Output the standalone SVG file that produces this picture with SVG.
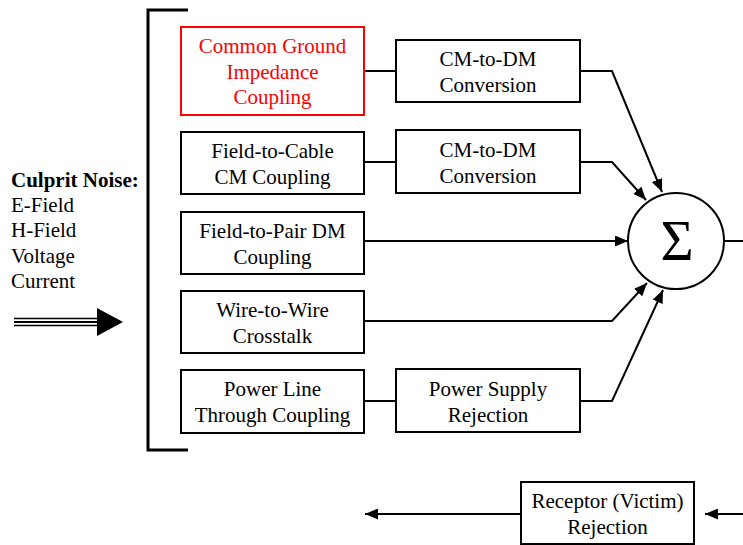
<svg xmlns="http://www.w3.org/2000/svg" width="743" height="545" viewBox="0 0 743 545">
<style>
  .box { fill: #fff; stroke: #000; stroke-width: 2; }
  .red { fill: #fff; stroke: #f00; stroke-width: 2; }
  .t { font-family: "Liberation Serif", "Times New Roman", serif; font-size: 21px; fill: #000; text-anchor: middle; }
  .tr { fill: #f00; }
  .l { font-family: "Liberation Serif", "Times New Roman", serif; font-size: 21px; fill: #000; }
  .c { fill: none; stroke: #000; stroke-width: 2; }
</style>
<defs>
  <marker id="ah" markerUnits="userSpaceOnUse" markerWidth="13" markerHeight="11" refX="13" refY="5.5" orient="auto">
    <path d="M0,0 L13,5.5 L0,11 z" fill="#000"/>
  </marker>
</defs>
<rect width="743" height="545" fill="#fff"/>

<g id="culprit">
  <text class="l" x="11" y="187" font-weight="bold">Culprit Noise:</text>
  <text class="l" x="11" y="212">E-Field</text>
  <text class="l" x="11" y="237">H-Field</text>
  <text class="l" x="11" y="263">Voltage</text>
  <text class="l" x="11" y="288">Current</text>
</g>

<g id="bigarrow">
  <line x1="14" y1="318.5" x2="98" y2="318.5" stroke="#000" stroke-width="1.3"/>
  <line x1="14" y1="322" x2="98" y2="322" stroke="#000" stroke-width="2"/>
  <line x1="14" y1="325.5" x2="98" y2="325.5" stroke="#000" stroke-width="1.3"/>
  <polygon points="97,308 123,322 97,336" fill="#000"/>
</g>

<g id="bracket">
  <path d="M188,10 H148 V450 H188" fill="none" stroke="#000" stroke-width="3"/>
</g>

<g id="connectors">
  <line class="c" x1="364" y1="71" x2="396" y2="71"/>
  <line class="c" x1="364" y1="162" x2="396" y2="162"/>
  <line class="c" x1="364" y1="401" x2="396" y2="401"/>
  <path class="c" d="M580,71 H612 L662,192" marker-end="url(#ah)"/>
  <path class="c" d="M580,162 H612 L646,200" marker-end="url(#ah)"/>
  <path class="c" d="M364,241 H628" marker-end="url(#ah)"/>
  <path class="c" d="M364,321 H612 L647,283" marker-end="url(#ah)"/>
  <path class="c" d="M580,401 H612 L663,290" marker-end="url(#ah)"/>
  <line class="c" x1="724" y1="241" x2="743" y2="241"/>
  <path class="c" d="M743,514 H705" marker-end="url(#ah)"/>
  <path class="c" d="M521,514 H365" marker-end="url(#ah)"/>
</g>

<g id="n-cgic">
  <rect class="red" x="181" y="27" width="183" height="88"/>
  <text class="t tr" x="272.5" y="53">Common Ground</text>
  <text class="t tr" x="272.5" y="79">Impedance</text>
  <text class="t tr" x="272.5" y="104">Coupling</text>
</g>
<g id="n-fcc">
  <rect class="box" x="181" y="132" width="183" height="62"/>
  <text class="t" x="272.5" y="158">Field-to-Cable</text>
  <text class="t" x="272.5" y="184">CM Coupling</text>
</g>
<g id="n-fpdm">
  <rect class="box" x="181" y="212" width="183" height="62"/>
  <text class="t" x="272.5" y="238">Field-to-Pair DM</text>
  <text class="t" x="272.5" y="264">Coupling</text>
</g>
<g id="n-wwc">
  <rect class="box" x="181" y="291" width="183" height="62"/>
  <text class="t" x="272.5" y="317">Wire-to-Wire</text>
  <text class="t" x="272.5" y="343">Crosstalk</text>
</g>
<g id="n-pltc">
  <rect class="box" x="181" y="370" width="183" height="63"/>
  <text class="t" x="272.5" y="396">Power Line</text>
  <text class="t" x="272.5" y="422">Through Coupling</text>
</g>
<g id="n-cmdm1">
  <rect class="box" x="396" y="40" width="184" height="62"/>
  <text class="t" x="488" y="66">CM-to-DM</text>
  <text class="t" x="488" y="92">Conversion</text>
</g>
<g id="n-cmdm2">
  <rect class="box" x="396" y="130" width="184" height="63"/>
  <text class="t" x="488" y="157">CM-to-DM</text>
  <text class="t" x="488" y="183">Conversion</text>
</g>
<g id="n-psr">
  <rect class="box" x="396" y="369" width="184" height="63"/>
  <text class="t" x="488" y="396">Power Supply</text>
  <text class="t" x="488" y="422">Rejection</text>
</g>
<g id="n-sum">
  <circle cx="676" cy="241" r="48" fill="#fff" stroke="#000" stroke-width="2"/>
  <text class="t" x="677" y="260" style="font-size:57px">Σ</text>
</g>
<g id="n-rvr">
  <rect class="box" x="521" y="482" width="173" height="62"/>
  <text class="t" x="607.5" y="508">Receptor (Victim)</text>
  <text class="t" x="607.5" y="534">Rejection</text>
</g>
</svg>
